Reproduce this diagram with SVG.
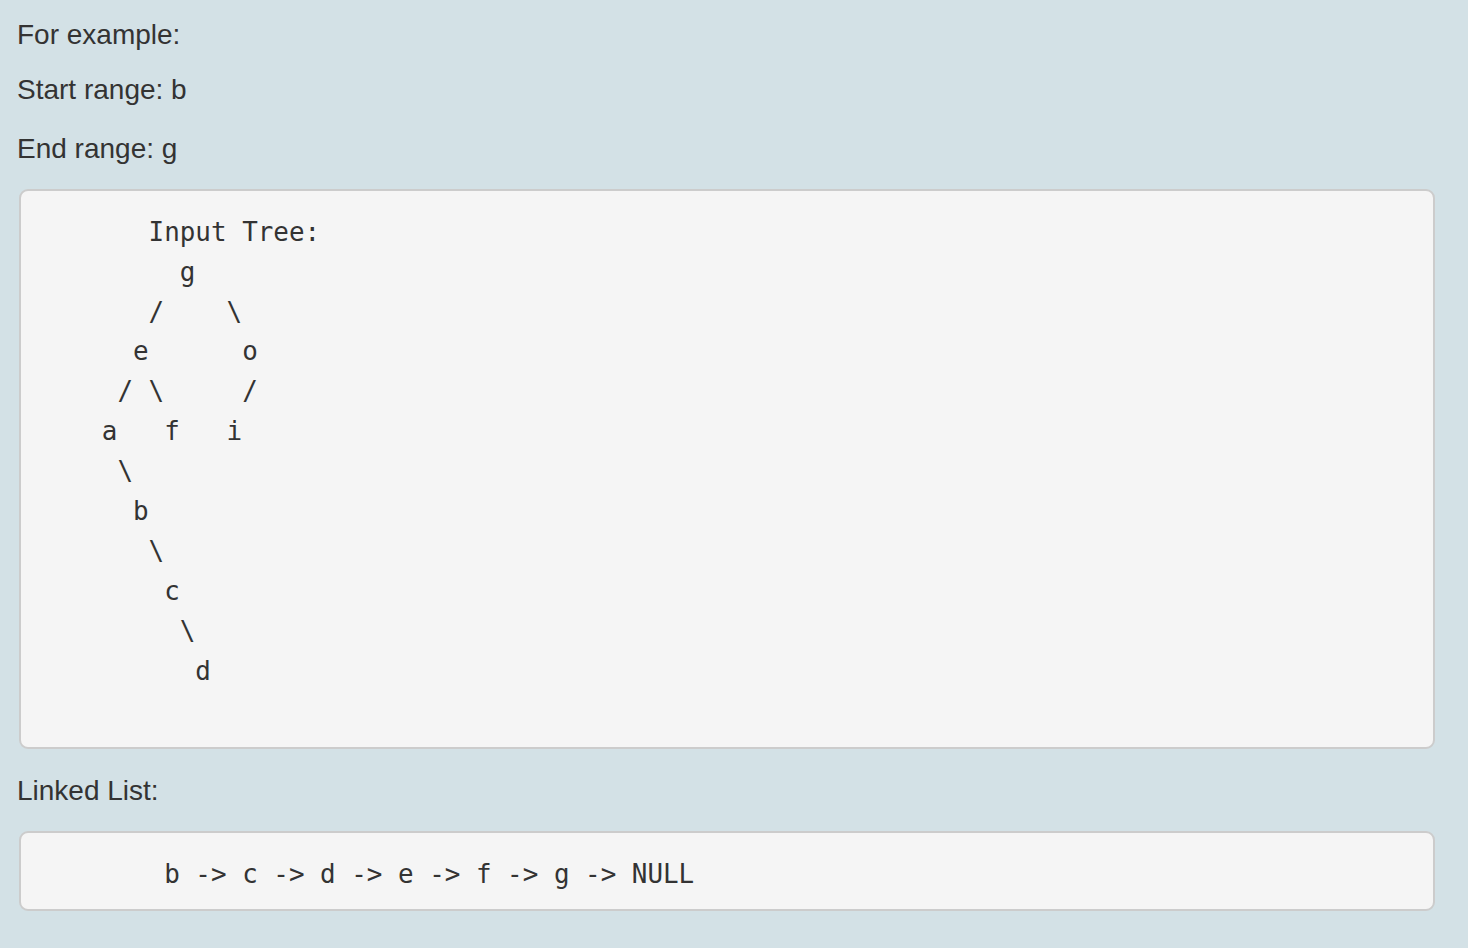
<svg xmlns="http://www.w3.org/2000/svg" width="1468" height="948" viewBox="0 0 1468 948">
<style>
.sans{font-family:"Liberation Sans",Arial,Helvetica,sans-serif;font-size:28px;fill:#333}
.mono{font-family:"DejaVu Sans Mono","Liberation Mono",monospace;font-size:25.9px;fill:#333;white-space:pre}
.pre{fill:#f5f5f5;stroke:#cccccc;stroke-width:2}
</style>
<rect x="0" y="0" width="1468" height="948" fill="#d3e1e6"/>
<g id="header">
<text class="sans" x="17" y="44">For example:</text>
<text class="sans" x="17" y="99">Start range: b</text>
<text class="sans" x="17" y="158">End range: g</text>
</g>
<g id="tree-block">
<rect class="pre" x="20" y="190" width="1414" height="558" rx="8"/>
<text class="mono" xml:space="preserve" x="39.5" y="240.7">       Input Tree:</text>
<text class="mono" xml:space="preserve" x="39.5" y="280.6">         g</text>
<text class="mono" xml:space="preserve" x="39.5" y="320.5">       /    \</text>
<text class="mono" xml:space="preserve" x="39.5" y="360.4">      e      o</text>
<text class="mono" xml:space="preserve" x="39.5" y="400.3">     / \     /</text>
<text class="mono" xml:space="preserve" x="39.5" y="440.2">    a   f   i</text>
<text class="mono" xml:space="preserve" x="39.5" y="480.1">     \</text>
<text class="mono" xml:space="preserve" x="39.5" y="520.0">      b</text>
<text class="mono" xml:space="preserve" x="39.5" y="559.9">       \</text>
<text class="mono" xml:space="preserve" x="39.5" y="599.8">        c</text>
<text class="mono" xml:space="preserve" x="39.5" y="639.7">         \</text>
<text class="mono" xml:space="preserve" x="39.5" y="679.6">          d</text>
</g>
<g id="list-label">
<text class="sans" x="17" y="800">Linked List:</text>
</g>
<g id="list-block">
<rect class="pre" x="20" y="832" width="1414" height="78" rx="8"/>
<text class="mono" xml:space="preserve" x="39.5" y="882.7">        b -&gt; c -&gt; d -&gt; e -&gt; f -&gt; g -&gt; NULL</text>
</g>
</svg>
